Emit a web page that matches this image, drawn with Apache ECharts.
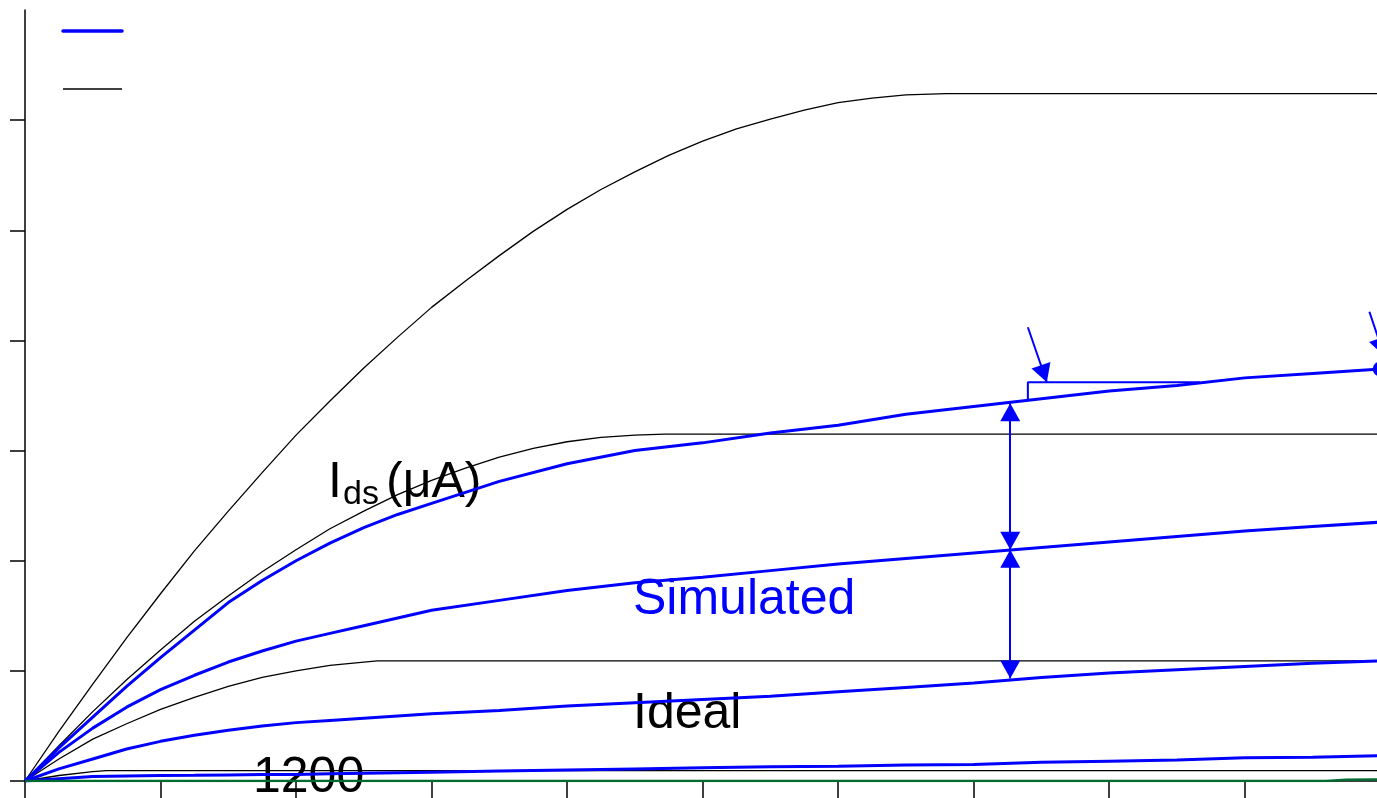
<!DOCTYPE html>
<html>
<head>
<meta charset="utf-8">
<script src="https://cdn.jsdelivr.net/npm/echarts@6/dist/echarts.min.js"></script>
<style>
  html, body { margin: 0; padding: 0; background: #fff; }
  #chart { width: 1377px; height: 798px; }
</style>
</head>
<body>
<div id="chart"></div>
<script>
// Vds positions (x) and drain currents (uA)
var vdsSim = [0, 0.25, 0.5, 0.75, 1, 1.25, 1.5, 1.75, 2, 2.25, 2.5, 2.75, 3,
              3.5, 4, 4.5, 5, 5.5, 6, 6.5, 7, 7.5, 8, 8.5, 9, 9.5, 10];
var sim1 = [0, 30, 58, 86, 112, 137, 162, 182, 200, 216, 230, 242, 252,
            272, 288, 300, 307, 316, 323, 333, 340, 347, 354, 359, 366, 370, 374];
var sim2 = [0, 26, 48, 67, 83, 96, 108, 118, 127, 134, 141, 148, 155,
            164, 173, 180, 185, 191, 197, 202, 207, 212, 217, 222, 227, 231, 235];
var sim3 = [0, 11, 20, 29, 36, 41.5, 46, 50, 53, 55, 57, 59, 61,
            64, 68, 71, 74, 77, 81, 85, 89, 94, 98, 101, 104, 107, 109];
var sim4 = [0, 2, 4, 4.5, 5, 5.2, 5.5, 5.8, 6, 6.5, 7, 7.5, 8,
            9, 10, 11, 12, 13, 13.5, 14.5, 15, 17, 18, 19, 21, 21.5, 23];

var vdsIdeal1 = [0, 0.25, 0.5, 0.75, 1, 1.25, 1.5, 1.75, 2, 2.25, 2.5, 2.75, 3, 3.25, 3.5, 3.75,
                 4, 4.25, 4.5, 4.75, 5, 5.25, 5.5, 5.75, 6, 6.25, 6.5, 6.8, 10];
var ideal1 = [0, 45, 88, 130, 170, 209, 245, 280, 314, 345, 375, 403, 430, 454, 477, 499,
              519, 537, 553, 568, 581, 592, 601, 609, 616, 620, 623, 624, 624];
var vdsIdeal2 = [0, 0.25, 0.5, 0.75, 1, 1.25, 1.5, 1.75, 2, 2.25, 2.5, 2.75, 3, 3.25, 3.5, 3.75,
                 4, 4.25, 4.5, 4.72, 10];
var ideal2 = [0, 32, 63, 92, 119, 145, 168, 190, 210, 229, 245, 260, 273, 284, 294, 302,
              308, 312, 314, 315, 315];
var vdsIdeal3 = [0, 0.25, 0.5, 0.75, 1, 1.25, 1.5, 1.75, 2, 2.25, 2.5, 2.6, 10];
var ideal3 = [0, 20, 38, 52, 65, 76, 86, 94, 100, 105, 108, 109, 109];
var vdsIdeal4 = [0, 0.25, 0.5, 0.6, 10];
var ideal4 = [0, 5, 8.5, 9.5, 9.5];

var vdsLeak = [0, 9.6, 9.75, 10];
var leak = [0, 0, 1.2, 1.5];

var yTicks = [0, 100, 200, 300, 400, 500, 600];

function pairs(xs, ys) {
    var out = [];
    for (var i = 0; i < xs.length; i++) {
        out.push([xs[i], ys[i]]);
    }
    return out;
}

function idealSeries(xs, ys) {
    return {
        type: 'line', name: 'Ideal', data: pairs(xs, ys),
        showSymbol: false, symbol: 'none',
        lineStyle: { color: '#000', width: 1.3 }, z: 2
    };
}

function simSeries(xs, ys) {
    return {
        type: 'line', name: 'Simulated', data: pairs(xs, ys),
        showSymbol: false, symbol: 'none',
        lineStyle: { color: '#0000ff', width: 3 }, z: 3
    };
}

var myChart = echarts.init(document.getElementById('chart'));

var topSim = simSeries(vdsSim, sim1);
topSim.markPoint = {
    silent: true,
    symbol: 'circle', symbolSize: 15,
    itemStyle: { color: '#0000ff' },
    label: { show: false },
    data: [{ coord: [10, 374] }]
};
topSim.markLine = {
    silent: true,
    symbol: ['triangle', 'triangle'],
    symbolSize: [20, 18],
    symbolOffset: [[0, 9], [0, 9]],
    lineStyle: { color: '#0000ff', width: 2, type: 'solid' },
    label: { show: false },
    data: [
        [{ coord: [7.27, 343] }, { coord: [7.27, 210] }],
        [{ coord: [7.27, 210] }, { coord: [7.27, 93] }],
        [{ coord: [7.40, 412], symbol: 'none' }, { coord: [7.54, 362] }],
        [{ coord: [9.92, 426], symbol: 'none' }, { coord: [10.03, 386] }]
    ]
};

var bracket = {
    type: 'line', data: [[7.40, 345.7], [7.40, 362], [8.67, 362]],
    showSymbol: false, symbol: 'none',
    lineStyle: { color: '#0000ff', width: 2 }, z: 3
};

var option = {
    animation: false,
    backgroundColor: '#fff',
    grid: { left: 25, top: 10, width: 1362, height: 771, containLabel: false, outerBoundsMode: 'none' },
    xAxis: {
        type: 'value', min: 0, max: 10.05, interval: 1,
        axisLine: { lineStyle: { color: '#000', width: 1.5 } },
        axisTick: { show: true, inside: false, length: 17, lineStyle: { color: '#000', width: 1.5 } },
        axisLabel: { show: false },
        splitLine: { show: false }
    },
    yAxis: {
        type: 'value', min: 0, max: 700, interval: 100,
        axisLine: { show: true, lineStyle: { color: '#000', width: 1.5 } },
        axisTick: { show: true, inside: false, length: 15, customValues: yTicks, lineStyle: { color: '#000', width: 1.5 } },
        axisLabel: { show: false },
        splitLine: { show: false }
    },
    graphic: [
        { type: 'line', shape: { x1: 63, y1: 31, x2: 122, y2: 31 }, style: { stroke: '#0000ff', lineWidth: 3.5, lineCap: 'round' } },
        { type: 'line', shape: { x1: 63, y1: 89, x2: 122, y2: 89 }, style: { stroke: '#000', lineWidth: 1.5 } },
        { type: 'text', left: 328, top: 458, style: { text: 'I', font: '50px "Liberation Sans", Arial', fill: '#000' } },
        { type: 'text', left: 343, top: 478, style: { text: 'ds', font: '34px "Liberation Sans", Arial', fill: '#000' } },
        { type: 'text', left: 386, top: 458, style: { text: '(μA)', font: '50px "Liberation Sans", Arial', fill: '#000' } },
        { type: 'text', left: 633, top: 575, style: { text: 'Simulated', font: '50px "Liberation Sans", Arial', fill: '#0000ff' } },
        { type: 'text', left: 633, top: 689, style: { text: 'Ideal', font: '50px "Liberation Sans", Arial', fill: '#000' } },
        { type: 'text', left: 253, top: 753, style: { text: '1200', font: '50px "Liberation Sans", Arial', fill: '#000' } }
    ],
    series: [
        idealSeries(vdsIdeal1, ideal1),
        idealSeries(vdsIdeal2, ideal2),
        idealSeries(vdsIdeal3, ideal3),
        idealSeries(vdsIdeal4, ideal4),
        topSim,
        simSeries(vdsSim, sim2),
        simSeries(vdsSim, sim3),
        simSeries(vdsSim, sim4),
        bracket,
        {
            type: 'line', name: 'leak', data: pairs(vdsLeak, leak),
            showSymbol: false, symbol: 'none',
            lineStyle: { color: '#006b2e', width: 2.5 }, z: 4
        }
    ]
};

myChart.setOption(option);
</script>
</body>
</html>
